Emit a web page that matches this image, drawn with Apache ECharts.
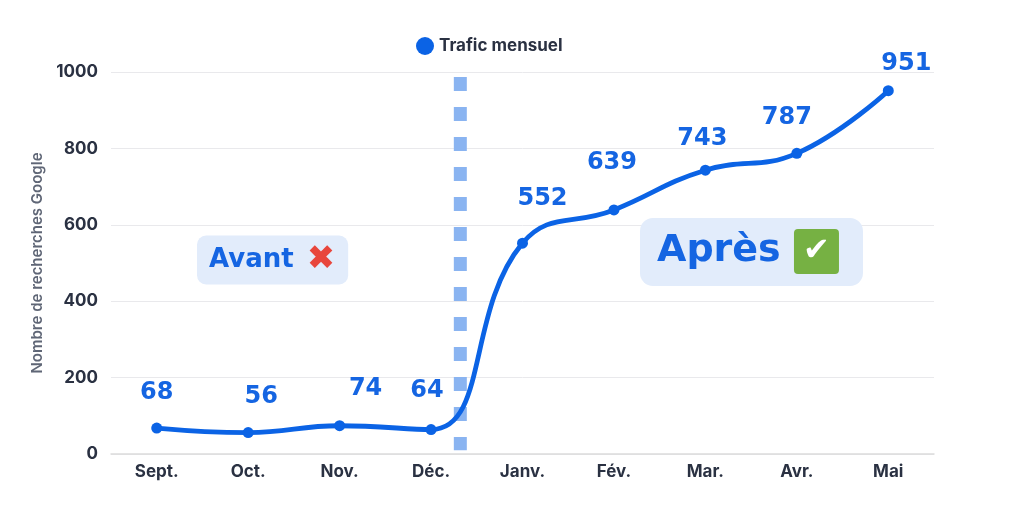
<!DOCTYPE html>
<html>
<head>
<meta charset="utf-8">
<script src="https://cdn.jsdelivr.net/npm/echarts@6/dist/echarts.min.js"></script>
<style>
  html, body { margin: 0; padding: 0; background: #fff; }
  #chart { width: 1024px; height: 515px; }
</style>
</head>
<body>
<div id="chart"></div>
<script>
const months = ["Sept.", "Oct.", "Nov.", "Déc.", "Janv.", "Fév.", "Mar.", "Avr.", "Mai"];
const traffic = [68, 56, 74, 64, 552, 639, 743, 787, 951];
const yTicks = { min: 0, max: 1000, step: 200 };
// position of the "before / after" separator, in category index units
const dividerAt = 3.32;
const dividerRange = [987, 10];
// small nudges so the value labels sit like in the original
const labelNudge = [[0, 0], [13, 0], [26, -1], [-4, -3], [20, -9], [-2, -12], [-3, 4], [-10, 0], [18, 9]];

const chart = echarts.init(document.getElementById("chart"));

const BLUE = "#0b63e5";
const LABEL_BLUE = "#1565e2";
const DARK = "#2a3142";

chart.setOption({
  animation: false,
  legend: {
    data: ["Trafic mensuel"],
    left: 411,
    top: 32,
    icon: "circle",
    itemWidth: 18,
    itemHeight: 18,
    itemGap: 8,
    textStyle: { fontFamily: "Inter", fontWeight: 700, fontSize: 17, color: DARK }
  },
  title: [
    {
      text: "Avant {x|✖}",
      left: 197,
      top: 237,
      backgroundColor: "#e2ecfb",
      borderRadius: 9,
      padding: [8, 13, 7, 12],
      textStyle: {
        fontFamily: "DejaVu Sans",
        fontWeight: "bold",
        fontSize: 26,
        lineHeight: 31,
        color: LABEL_BLUE,
        rich: {
          x: { fontFamily: "DejaVu Sans", fontSize: 34, lineHeight: 31, color: "#e8463c", padding: [0, 0, 0, 4] }
        }
      }
    },
    {
      text: "Après {ok|✔}",
      left: 640,
      top: 218,
      backgroundColor: "#e2ecfb",
      borderRadius: 13,
      padding: [11, 24, 12, 17],
      textStyle: {
        fontFamily: "DejaVu Sans",
        fontWeight: "bold",
        fontSize: 38,
        lineHeight: 44,
        color: LABEL_BLUE,
        rich: {
          ok: {
            fontFamily: "DejaVu Sans",
            fontSize: 32,
            color: "#ffffff",
            backgroundColor: "#76b143",
            borderRadius: 4,
            width: 45,
            height: 45,
            align: "center",
            lineHeight: 45
          }
        }
      }
    }
  ],
  grid: { left: 111, right: 90, top: 72, bottom: 61 },
  xAxis: [
    {
      type: "category",
      data: months,
      boundaryGap: true,
      axisTick: { show: false },
      axisLine: { show: true, lineStyle: { color: "#dcdcdc", width: 1.5 } },
      axisLabel: { margin: 9, fontFamily: "Inter", fontWeight: 700, fontSize: 17, color: DARK }
    },
    {
      type: "value",
      min: -0.5,
      max: months.length - 0.5,
      show: false
    }
  ],
  yAxis: {
    type: "value",
    min: yTicks.min,
    max: yTicks.max,
    interval: yTicks.step,
    name: "Nombre de recherches Google",
    nameLocation: "middle",
    nameGap: 66,
    nameRotate: 90,
    nameTextStyle: { fontFamily: "Inter", fontWeight: 600, fontSize: 15, color: "#5f6676" },
    axisLine: { show: false },
    axisTick: { show: false },
    axisLabel: {
      margin: 13,
      fontFamily: "Inter",
      fontWeight: 700,
      fontSize: 17,
      color: DARK,
      formatter: (v) => String(v)
    },
    splitLine: { lineStyle: { color: "#e9e9ec", width: 1 } }
  },
  series: [
    {
      name: "separator",
      type: "line",
      xAxisIndex: 1,
      silent: true,
      symbol: "none",
      z: 1,
      lineStyle: { color: "#8ab4f1", width: 13, type: [14, 16], cap: "butt" },
      data: [[dividerAt, dividerRange[0]], [dividerAt, dividerRange[1]]]
    },
    {
      name: "Trafic mensuel",
      type: "line",
      data: traffic.map((v, i) => ({
        value: v,
        label: { offset: labelNudge[i] }
      })),
      smooth: 0.45,
      z: 3,
      symbol: "circle",
      symbolSize: 11,
      itemStyle: { color: BLUE },
      lineStyle: { color: BLUE, width: 4.8 },
      label: {
        show: true,
        position: "top",
        distance: 18,
        fontFamily: "DejaVu Sans",
        fontWeight: "bold",
        fontSize: 24,
        color: LABEL_BLUE
      }
    }
  ]
});
</script>
</body>
</html>
